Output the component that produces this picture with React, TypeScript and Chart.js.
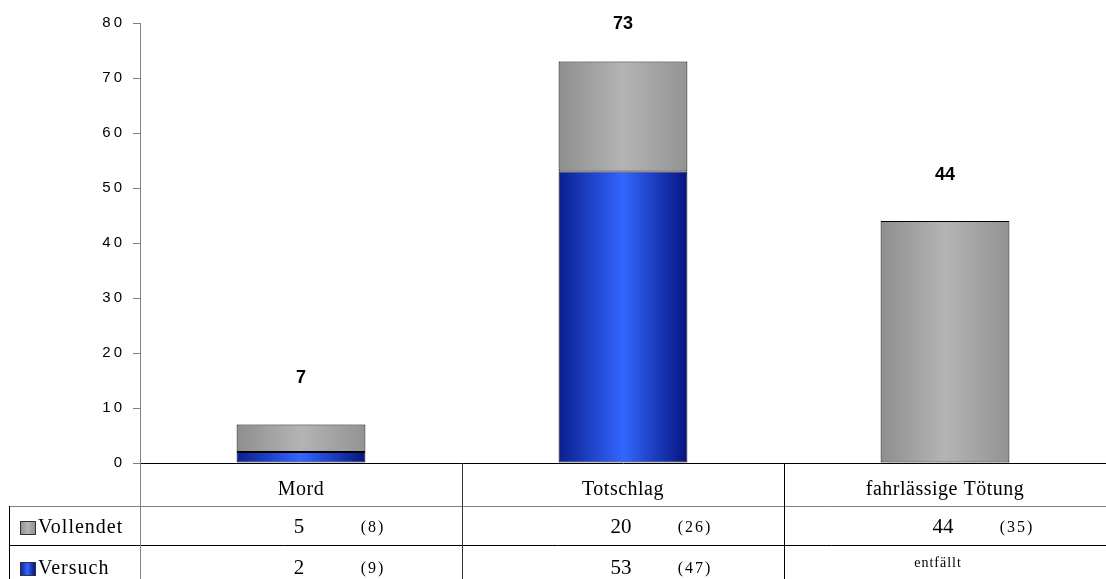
import React, { useEffect, useRef } from "react";
import { Chart, registerables } from "chart.js";

Chart.register(...registerables);

const categories = ["Mord", "Totschlag", "fahrlässige Tötung"];
const versuch: (number | null)[] = [2, 53, null];
const vollendet: number[] = [5, 20, 44];
const vollendetPrev = ["(8)", "(26)", "(35)"];
const versuchPrev = ["(9)", "(47)", ""];
const versuchText = ["2", "53", "entfällt"];
const vollendetText = ["5", "20", "44"];
const yTicks = [0, 10, 20, 30, 40, 50, 60, 70, 80];
const seriesNames = ["Versuch", "Vollendet"];

const W = 1106;
const H = 579;

function greyGrad(ctx: CanvasRenderingContext2D, x0: number, x1: number) {
  const g = ctx.createLinearGradient(x0, 0, x1, 0);
  g.addColorStop(0, "#8e8e8e");
  g.addColorStop(0.5, "#b4b4b4");
  g.addColorStop(1, "#939393");
  return g;
}
function blueGrad(ctx: CanvasRenderingContext2D, x0: number, x1: number) {
  const g = ctx.createLinearGradient(x0, 0, x1, 0);
  g.addColorStop(0, "#0a1f8f");
  g.addColorStop(0.5, "#3366ff");
  g.addColorStop(1, "#061480");
  return g;
}

function barFill(kind: "grey" | "blue") {
  return (c: any) => {
    const chart = c.chart;
    const ca = chart.chartArea;
    const xs = chart.scales.x;
    if (!ca || !xs || c.dataIndex === undefined) return kind === "grey" ? "#a6a6a6" : "#2a55e8";
    const cx = xs.getPixelForValue(c.dataIndex);
    const w = (ca.width / categories.length) * 0.4;
    return kind === "grey"
      ? greyGrad(chart.ctx, cx - w / 2, cx + w / 2)
      : blueGrad(chart.ctx, cx - w / 2, cx + w / 2);
  };
}

const SERIF = "'Liberation Serif', 'Times New Roman', serif";

const tablePlugin = {
  id: "dataTable",
  beforeDraw(chart: any) {
    (chart.ctx as any).letterSpacing = "3px";
  },
  afterDatasetsDraw(chart: any) {
    const ctx = chart.ctx as CanvasRenderingContext2D;
    const xs = chart.scales.x;
    const ys = chart.scales.y;
    ctx.save();
    (ctx as any).letterSpacing = "0px";
    ctx.fillStyle = "#000";
    ctx.font = "bold 18px 'Liberation Sans', Arial, sans-serif";
    ctx.textAlign = "center";
    ctx.textBaseline = "middle";
    categories.forEach((_, i) => {
      const total = (versuch[i] || 0) + (vollendet[i] || 0);
      const x = xs.getPixelForValue(i);
      const y = Math.max(ys.getPixelForValue(total) - 46, 24);
      ctx.fillText(String(total), x, y);
    });
    ctx.restore();
  },
  afterDraw(chart: any) {
    const ctx = chart.ctx as CanvasRenderingContext2D;
    const xs = chart.scales.x;
    const ca = chart.chartArea;
    const top = ca.bottom;
    const r1 = 506;
    const r2 = 545;
    const bottom = H;
    const left = 9;
    const right = W;
    const colW = ca.width / categories.length;
    ctx.save();
    (ctx as any).letterSpacing = "0px";
    ctx.lineWidth = 1;
    ctx.strokeStyle = "#808080";
    ctx.beginPath();
    ctx.moveTo(left, r1 + 0.5);
    ctx.lineTo(right, r1 + 0.5);
    ctx.stroke();
    ctx.strokeStyle = "#000";
    ctx.beginPath();
    ctx.moveTo(left, r2 + 0.5);
    ctx.lineTo(right, r2 + 0.5);
    ctx.stroke();
    ctx.strokeStyle = "#000";
    ctx.beginPath();
    ctx.moveTo(left + 0.5, r1);
    ctx.lineTo(left + 0.5, bottom);
    ctx.stroke();
    ctx.strokeStyle = "#808080";
    ctx.beginPath();
    ctx.moveTo(ca.left + 0.5, top);
    ctx.lineTo(ca.left + 0.5, bottom);
    ctx.stroke();
    for (let i = 1; i < categories.length; i++) {
      const x = Math.round(ca.left + colW * i) + 0.5;
      ctx.strokeStyle = i === 1 ? "#333" : "#000";
      ctx.beginPath();
      ctx.moveTo(x, top);
      ctx.lineTo(x, bottom);
      ctx.stroke();
    }
    ctx.fillStyle = "#000";
    ctx.textBaseline = "middle";
    ctx.textAlign = "center";
    ctx.font = `20px ${SERIF}`;
    (ctx as any).letterSpacing = "0.5px";
    categories.forEach((c, i) => {
      ctx.fillText(c, xs.getPixelForValue(i), 490);
    });
    const rowY = [527, 568];
    const rowTexts = [vollendetText, versuchText];
    const rowPrev = [vollendetPrev, versuchPrev];
    const rowNames = [seriesNames[1], seriesNames[0]];
    rowNames.forEach((name, r) => {
      const y = rowY[r];
      const kx = 20, kw = 15, kh = 13;
      const ky = y - 6;
      ctx.fillStyle = r === 0 ? greyGrad(ctx, kx, kx + kw) : blueGrad(ctx, kx, kx + kw);
      ctx.fillRect(kx, ky, kw, kh);
      ctx.strokeStyle = "#333";
      ctx.strokeRect(kx + 0.5, ky + 0.5, kw, kh);
      ctx.fillStyle = "#000";
      ctx.textAlign = "left";
      ctx.font = `20px ${SERIF}`;
      (ctx as any).letterSpacing = "1px";
      ctx.fillText(name, 38, y + 1);
      categories.forEach((_, i) => {
        const cx = xs.getPixelForValue(i);
        const t = rowTexts[r][i];
        const p = rowPrev[r][i];
        ctx.textAlign = "center";
        if (t === "entfällt") {
          ctx.font = `14px ${SERIF}`;
          (ctx as any).letterSpacing = "1px";
          ctx.fillText(t, cx - 7, y - 5);
        } else {
          ctx.font = `21px ${SERIF}`;
          (ctx as any).letterSpacing = "0px";
          ctx.fillText(t, cx - 2, y);
          ctx.font = `16px ${SERIF}`;
          (ctx as any).letterSpacing = "2px";
          ctx.fillText(p, cx + 72, y + 1);
        }
      });
    });
    ctx.restore();
  },
};

export default function App() {
  const ref = useRef<HTMLCanvasElement | null>(null);
  useEffect(() => {
    if (!ref.current) return;
    const chart = new Chart(ref.current, {
      type: "bar",
      data: {
        labels: categories,
        datasets: [
          {
            label: seriesNames[0],
            data: versuch,
            backgroundColor: barFill("blue"),
            borderColor: "#000",
            borderWidth: 1,
            borderSkipped: false,
            barPercentage: 0.4,
            categoryPercentage: 1,
          },
          {
            label: seriesNames[1],
            data: vollendet,
            backgroundColor: barFill("grey"),
            borderColor: "#000",
            borderWidth: 1,
            borderSkipped: false,
            barPercentage: 0.4,
            categoryPercentage: 1,
          },
        ],
      },
      options: {
        responsive: false,
        animation: false,
        devicePixelRatio: 1,
        layout: { padding: { top: 23, right: 0, bottom: 0, left: 0 } },
        plugins: {
          legend: { display: false },
          tooltip: { enabled: false },
          title: { display: false },
        },
        scales: {
          x: {
            stacked: true,
            grid: { display: false },
            ticks: { display: false },
            border: { display: true, color: "#000", width: 1 },
            afterFit: (s: any) => {
              s.height = 116;
            },
          },
          y: {
            stacked: true,
            min: 0,
            max: 80,
            afterBuildTicks: (s: any) => {
              s.ticks = yTicks.map((v) => ({ value: v }));
            },
            ticks: {
              color: "#000",
              padding: 8,
              font: { family: "'Liberation Sans', Arial, sans-serif", size: 15 },
            },
            grid: {
              display: true,
              drawOnChartArea: false,
              drawTicks: true,
              tickLength: 7,
              color: "#808080",
            },
            border: { display: true, color: "#808080", width: 1 },
            afterFit: (s: any) => {
              s.width = 140;
            },
          },
        },
      },
      plugins: [tablePlugin],
    });
    return () => chart.destroy();
  }, []);
  return (
    <div style={{ position: "absolute", left: 0, top: 0, width: W, height: H, background: "#fff" }}>
      <canvas ref={ref} width={W} height={H} style={{ display: "block" }} />
    </div>
  );
}
